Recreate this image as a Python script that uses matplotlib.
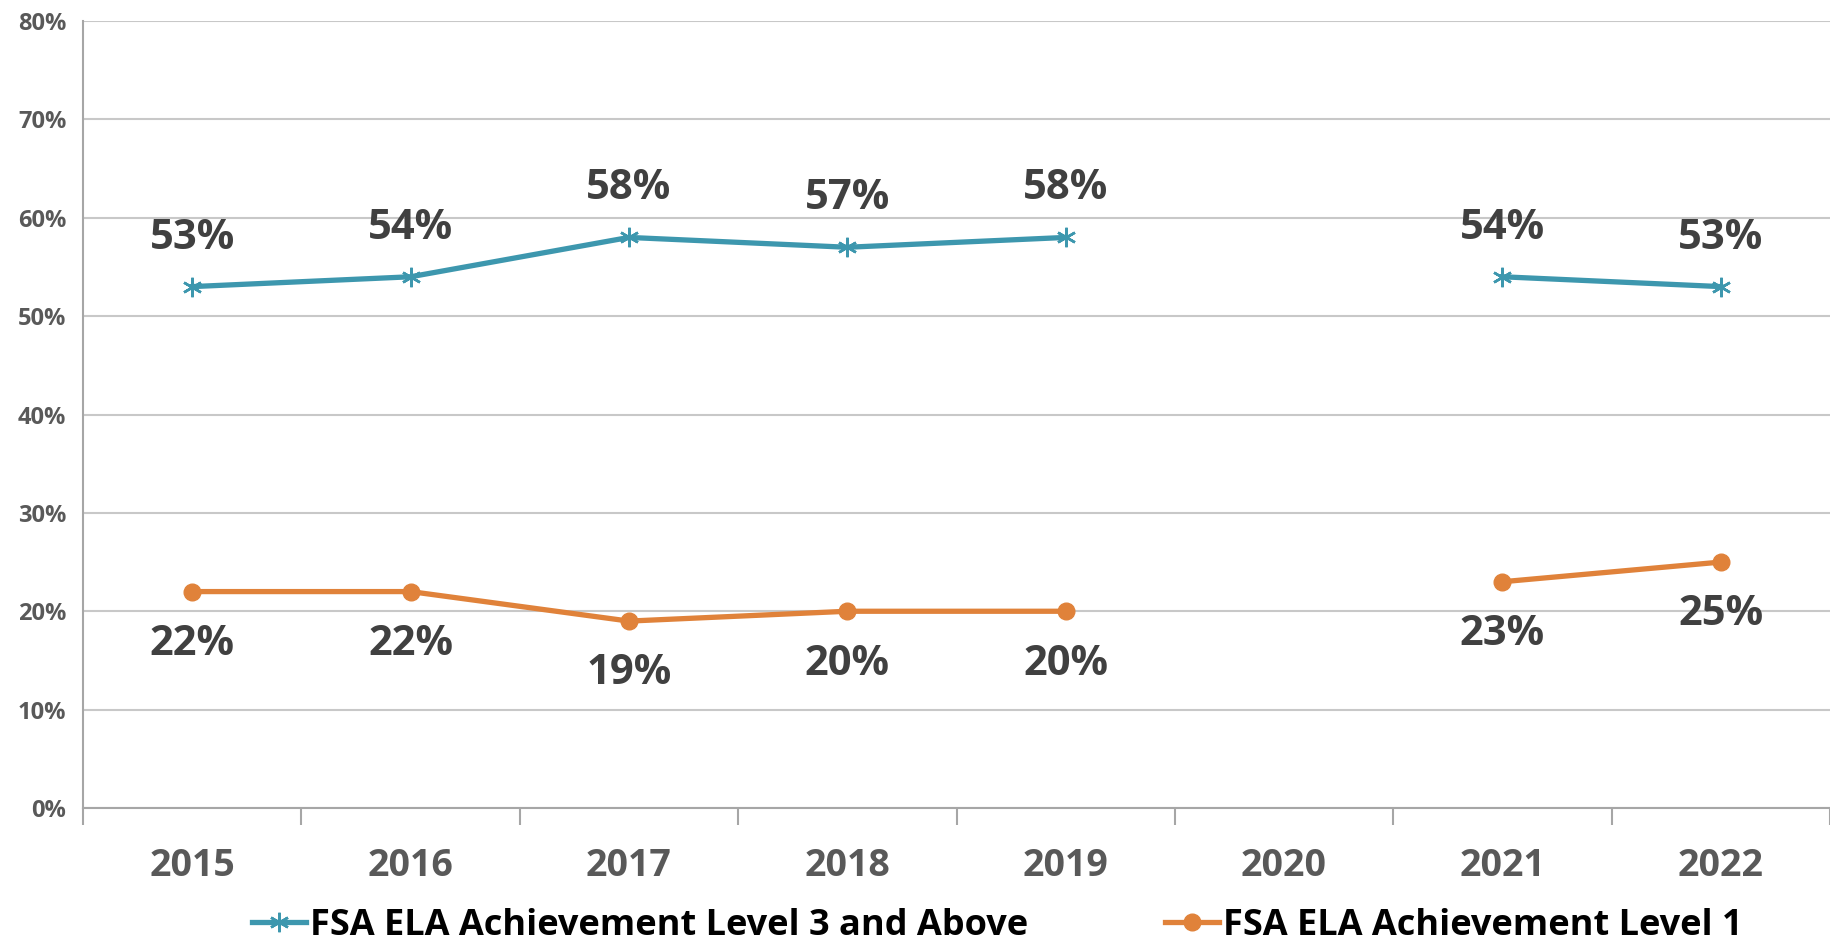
import numpy as np
import matplotlib
matplotlib.use("Agg")
import matplotlib.pyplot as plt

years = ["2015", "2016", "2017", "2018", "2019", "2020", "2021", "2022"]
level3_above = [53, 54, 58, 57, 58, np.nan, 54, 53]
level1 = [22, 22, 19, 20, 20, np.nan, 23, 25]
yticks = [0, 10, 20, 30, 40, 50, 60, 70, 80]

blue = "#3D97AE"
orange = "#E0823A"

plt.rcParams['font.family'] = ['Open Sans', 'DejaVu Sans']
plt.rcParams['font.weight'] = 'bold'

fig = plt.figure(figsize=(18.3, 9.44), dpi=100)
ax = fig.add_axes([83 / 1830, 1 - 808 / 944, 1 - 83 / 1830, (808 - 21) / 944])

x = np.arange(len(years))
ax.plot(x, level3_above, color=blue, lw=3.8, marker=(6, 2, 0), ms=14, mew=1.8,
        label="FSA ELA Achievement Level 3 and Above")
ax.plot(x, level1, color=orange, lw=3.8, marker="o", ms=12,
        label="FSA ELA Achievement Level 1")

# data labels: above the blue line, below the orange one
for i, v in enumerate(level3_above):
    if not np.isnan(v):
        ax.annotate(f"{v:.0f}%", (i, v), xytext=(0, 35), textcoords="offset points",
                    ha="center", va="center", fontsize=30, fontweight="bold", color="#404040")
for i, v in enumerate(level1):
    if not np.isnan(v):
        ax.annotate(f"{v:.0f}%", (i, v), xytext=(0, -38), textcoords="offset points",
                    ha="center", va="center", fontsize=30, fontweight="bold", color="#404040")

ax.set_xlim(-0.5, len(years) - 0.5)
ax.set_ylim(0, 80)
ax.set_yticks(yticks)
ax.set_yticklabels([f"{t}%" for t in yticks], fontsize=17, fontweight="bold", color="#595959")
ax.set_xticks(x)
ax.set_xticklabels(years, fontsize=27, fontweight="bold", color="#595959")
ax.set_xticks(np.arange(-0.5, len(years)), minor=True)
ax.tick_params(axis="x", which="major", length=0, pad=28)
ax.tick_params(axis="x", which="minor", length=12, width=1.5, color="#A6A6A6")
ax.tick_params(axis="y", length=0, pad=12)

ax.grid(axis="y", color="#C8C8C8", lw=1.5)
ax.set_axisbelow(True)
for s in ["top", "right"]:
    ax.spines[s].set_visible(False)
for s in ["left", "bottom"]:
    ax.spines[s].set_color("#A6A6A6")
    ax.spines[s].set_linewidth(1.5)

leg = fig.legend(loc="center", bbox_to_anchor=(0.545, 1 - 926 / 944), ncol=2, frameon=False,
                 prop={"size": 26, "weight": "bold"}, handlelength=1.5, handletextpad=0.1,
                 columnspacing=3.8, borderaxespad=0)
for t in leg.get_texts():
    t.set_color("black")

fig.savefig("out.png", dpi=100)
